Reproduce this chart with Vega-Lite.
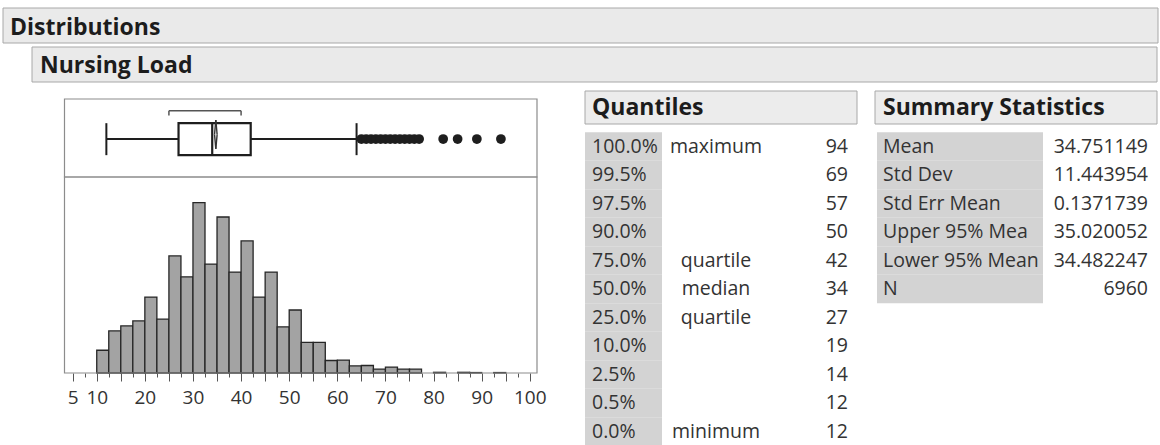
{
  "$schema": "https://vega.github.io/schema/vega-lite/v6.json",
  "padding": 0,
  "spacing": 0,
  "bounds": "flush",
  "background": "#ffffff",
  "config": {"view": {"stroke": null}, "font": "Open Sans", "concat": {"spacing": 0}},
  "datasets": {
    "bins": [
      {"bin_start": 10, "bin_end": 12.5, "count": 100},
      {"bin_start": 12.5, "bin_end": 15, "count": 185},
      {"bin_start": 15, "bin_end": 17.5, "count": 207},
      {"bin_start": 17.5, "bin_end": 20, "count": 229},
      {"bin_start": 20, "bin_end": 22.5, "count": 334},
      {"bin_start": 22.5, "bin_end": 25, "count": 237},
      {"bin_start": 25, "bin_end": 27.5, "count": 515},
      {"bin_start": 27.5, "bin_end": 30, "count": 423},
      {"bin_start": 30, "bin_end": 32.5, "count": 749},
      {"bin_start": 32.5, "bin_end": 35, "count": 479},
      {"bin_start": 35, "bin_end": 37.5, "count": 686},
      {"bin_start": 37.5, "bin_end": 40, "count": 444},
      {"bin_start": 40, "bin_end": 42.5, "count": 581},
      {"bin_start": 42.5, "bin_end": 45, "count": 334},
      {"bin_start": 45, "bin_end": 47.5, "count": 444},
      {"bin_start": 47.5, "bin_end": 50, "count": 203},
      {"bin_start": 50, "bin_end": 52.5, "count": 277},
      {"bin_start": 52.5, "bin_end": 55, "count": 135},
      {"bin_start": 55, "bin_end": 57.5, "count": 135},
      {"bin_start": 57.5, "bin_end": 60, "count": 55},
      {"bin_start": 60, "bin_end": 62.5, "count": 57},
      {"bin_start": 62.5, "bin_end": 65, "count": 31},
      {"bin_start": 65, "bin_end": 67.5, "count": 33},
      {"bin_start": 67.5, "bin_end": 70, "count": 17},
      {"bin_start": 70, "bin_end": 72.5, "count": 26},
      {"bin_start": 72.5, "bin_end": 75, "count": 17},
      {"bin_start": 75, "bin_end": 77.5, "count": 17},
      {"bin_start": 80, "bin_end": 82.5, "count": 3},
      {"bin_start": 85, "bin_end": 87.5, "count": 3},
      {"bin_start": 87.5, "bin_end": 90, "count": 2},
      {"bin_start": 92.5, "bin_end": 95, "count": 2}
    ],
    "box": [
      {"min": 12, "q1": 27, "median": 34, "q3": 42, "whisker_high": 64,
       "mean": 34.751149, "lower95": 34.482247, "upper95": 35.020052,
       "shortest_half_low": 25, "shortest_half_high": 40}
    ],
    "outliers": [
      {"load": 65}, {"load": 66}, {"load": 67}, {"load": 68}, {"load": 69},
      {"load": 70}, {"load": 71}, {"load": 72}, {"load": 73}, {"load": 74},
      {"load": 75}, {"load": 76}, {"load": 77}, {"load": 82}, {"load": 85},
      {"load": 89}, {"load": 94}
    ],
    "quantiles": [
      {"pct": "100.0%", "note": "maximum", "value": 94},
      {"pct": "99.5%", "note": "", "value": 69},
      {"pct": "97.5%", "note": "", "value": 57},
      {"pct": "90.0%", "note": "", "value": 50},
      {"pct": "75.0%", "note": "quartile", "value": 42},
      {"pct": "50.0%", "note": "median", "value": 34},
      {"pct": "25.0%", "note": "quartile", "value": 27},
      {"pct": "10.0%", "note": "", "value": 19},
      {"pct": "2.5%", "note": "", "value": 14},
      {"pct": "0.5%", "note": "", "value": 12},
      {"pct": "0.0%", "note": "minimum", "value": 12}
    ],
    "summary": [
      {"stat": "Mean", "value": "34.751149"},
      {"stat": "Std Dev", "value": "11.443954"},
      {"stat": "Std Err Mean", "value": "0.1371739"},
      {"stat": "Upper 95% Mea", "value": "35.020052"},
      {"stat": "Lower 95% Mean", "value": "34.482247"},
      {"stat": "N", "value": "6960"}
    ]
  },
  "vconcat": [
    {
      "width": 1160,
      "height": 88,
      "resolve": {"scale": {"x": "independent", "y": "independent"}},
      "layer": [
        {
          "data": {"values": [{"section": "Distributions"}]},
          "layer": [
            {
              "mark": {"type": "rect", "fill": "#eaeaea", "stroke": "#a8a8a8", "strokeWidth": 1},
              "encoding": {
                "x": {"datum": 0, "type": "quantitative", "scale": {"domain": [0, 1], "range": [3, 1158]}, "axis": null},
                "x2": {"datum": 1},
                "y": {"datum": 0, "type": "quantitative", "scale": {"domain": [0, 1], "range": [8, 43]}, "axis": null},
                "y2": {"datum": 1}
              }
            },
            {
              "mark": {"type": "text", "align": "left", "baseline": "middle", "fontSize": 23, "fontWeight": "bold", "color": "#1c1c1c", "dx": 7, "dy": 2},
              "encoding": {
                "x": {"datum": 0, "type": "quantitative"},
                "y": {"datum": 0.5, "type": "quantitative"},
                "text": {"field": "section"}
              }
            }
          ]
        },
        {
          "data": {"values": [{"section": "Nursing Load"}]},
          "layer": [
            {
              "mark": {"type": "rect", "fill": "#eaeaea", "stroke": "#a8a8a8", "strokeWidth": 1},
              "encoding": {
                "x": {"datum": 0, "type": "quantitative", "scale": {"domain": [0, 1], "range": [32, 1157]}, "axis": null},
                "x2": {"datum": 1},
                "y": {"datum": 0, "type": "quantitative", "scale": {"domain": [0, 1], "range": [47, 82]}, "axis": null},
                "y2": {"datum": 1}
              }
            },
            {
              "mark": {"type": "text", "align": "left", "baseline": "middle", "fontSize": 23, "fontWeight": "bold", "color": "#1c1c1c", "dx": 8, "dy": 1},
              "encoding": {
                "x": {"datum": 0, "type": "quantitative"},
                "y": {"datum": 0.5, "type": "quantitative"},
                "text": {"field": "section"}
              }
            }
          ]
        }
      ]
    },
    {
      "spacing": 0,
      "bounds": "flush",
      "hconcat": [
        {
          "width": 560,
          "height": 285,
          "resolve": {"scale": {"y": "independent"}},
          "layer": [
            {
              "layer": [
                {
                  "data": {"name": "bins"},
                  "mark": {"type": "rect", "fill": "#a3a3a3", "stroke": "#262626", "strokeWidth": 1.3},
                  "encoding": {
                    "x": {
                      "field": "bin_start", "type": "quantitative",
                      "scale": {"domain": [3.3, 101.5], "range": [64.5, 537], "nice": false, "zero": false},
                      "axis": {
                        "orient": "bottom", "title": null, "domain": false, "grid": false,
                        "values": [5, 7.5, 10, 12.5, 15, 17.5, 20, 22.5, 25, 27.5, 30, 32.5, 35, 37.5, 40, 42.5, 45, 47.5, 50, 52.5, 55, 57.5, 60, 62.5, 65, 67.5, 70, 72.5, 75, 77.5, 80, 82.5, 85, 87.5, 90, 92.5, 95, 97.5, 100],
                        "tickCount": 200,
                        "format": "d",
                        "labelExpr": "(datum.value % 10 == 0 || datum.value == 5) ? datum.label : ''",
                        "labelFontSize": 19, "labelColor": "#333333", "labelFont": "Open Sans",
                        "labelOverlap": false, "labelFlush": false, "labelBound": false, "labelPadding": 7,
                        "tickColor": "#555555", "tickWidth": 1,
                        "tickSize": {"condition": {"test": "datum.value % 5 == 0", "value": 8}, "value": 4}
                      }
                    },
                    "x2": {"field": "bin_end"},
                    "y": {"field": "count", "type": "quantitative", "scale": {"domain": [0, 862], "range": [285, 89], "nice": false, "zero": false}, "axis": null},
                    "y2": {"datum": 0}
                  }
                },
                {
                  "data": {"values": [{"panel": "histogram"}]},
                  "mark": {"type": "rect", "fill": null, "stroke": "#8c8c8c", "strokeWidth": 1.2},
                  "encoding": {
                    "x": {"datum": 3.3, "type": "quantitative"},
                    "x2": {"datum": 101.5},
                    "y": {"datum": 0, "type": "quantitative", "axis": null},
                    "y2": {"datum": 862}
                  }
                }
              ]
            },
            {
              "layer": [
                {
                  "data": {"values": [{"panel": "box plot"}]},
                  "mark": {"type": "rect", "fill": null, "stroke": "#8c8c8c", "strokeWidth": 1.2},
                  "encoding": {
                    "x": {"datum": 3.3, "type": "quantitative", "scale": {"domain": [3.3, 101.5], "range": [64.5, 537], "nice": false, "zero": false}},
                    "x2": {"datum": 101.5},
                    "y": {"datum": 0, "type": "quantitative", "scale": {"domain": [0, 1], "range": [89, 11], "nice": false, "zero": false}, "axis": null},
                    "y2": {"datum": 1}
                  }
                },
                {
                  "data": {"name": "box"},
                  "mark": {"type": "rule", "color": "#1e1e1e", "strokeWidth": 2},
                  "encoding": {
                    "x": {"field": "min", "type": "quantitative"},
                    "x2": {"field": "q1"},
                    "y": {"datum": 0.487, "type": "quantitative", "axis": null}
                  }
                },
                {
                  "data": {"name": "box"},
                  "mark": {"type": "rule", "color": "#1e1e1e", "strokeWidth": 2},
                  "encoding": {
                    "x": {"field": "q3", "type": "quantitative"},
                    "x2": {"field": "whisker_high"},
                    "y": {"datum": 0.487, "type": "quantitative", "axis": null}
                  }
                },
                {
                  "data": {"name": "box"},
                  "mark": {"type": "rule", "color": "#1e1e1e", "strokeWidth": 2},
                  "encoding": {
                    "x": {"field": "min", "type": "quantitative"},
                    "y": {"datum": 0.28, "type": "quantitative", "axis": null},
                    "y2": {"datum": 0.69}
                  }
                },
                {
                  "data": {"name": "box"},
                  "mark": {"type": "rule", "color": "#1e1e1e", "strokeWidth": 2},
                  "encoding": {
                    "x": {"field": "whisker_high", "type": "quantitative"},
                    "y": {"datum": 0.28, "type": "quantitative", "axis": null},
                    "y2": {"datum": 0.69}
                  }
                },
                {
                  "data": {"name": "box"},
                  "mark": {"type": "rect", "fill": "#ffffff", "stroke": "#1e1e1e", "strokeWidth": 2.2},
                  "encoding": {
                    "x": {"field": "q1", "type": "quantitative"},
                    "x2": {"field": "q3"},
                    "y": {"datum": 0.28, "type": "quantitative", "axis": null},
                    "y2": {"datum": 0.69}
                  }
                },
                {
                  "data": {"name": "box"},
                  "mark": {"type": "rule", "color": "#1e1e1e", "strokeWidth": 2.2},
                  "encoding": {
                    "x": {"field": "median", "type": "quantitative"},
                    "y": {"datum": 0.28, "type": "quantitative", "axis": null},
                    "y2": {"datum": 0.69}
                  }
                },
                {
                  "data": {"name": "box"},
                  "mark": {"type": "rule", "color": "#333333", "strokeWidth": 1.4},
                  "encoding": {
                    "x": {"field": "lower95", "type": "quantitative"},
                    "x2": {"field": "mean"},
                    "y": {"datum": 0.545, "type": "quantitative", "axis": null},
                    "y2": {"datum": 0.73}
                  }
                },
                {
                  "data": {"name": "box"},
                  "mark": {"type": "rule", "color": "#333333", "strokeWidth": 1.4},
                  "encoding": {
                    "x": {"field": "mean", "type": "quantitative"},
                    "x2": {"field": "upper95"},
                    "y": {"datum": 0.73, "type": "quantitative", "axis": null},
                    "y2": {"datum": 0.545}
                  }
                },
                {
                  "data": {"name": "box"},
                  "mark": {"type": "rule", "color": "#333333", "strokeWidth": 1.4},
                  "encoding": {
                    "x": {"field": "upper95", "type": "quantitative"},
                    "x2": {"field": "mean"},
                    "y": {"datum": 0.545, "type": "quantitative", "axis": null},
                    "y2": {"datum": 0.36}
                  }
                },
                {
                  "data": {"name": "box"},
                  "mark": {"type": "rule", "color": "#333333", "strokeWidth": 1.4},
                  "encoding": {
                    "x": {"field": "mean", "type": "quantitative"},
                    "x2": {"field": "lower95"},
                    "y": {"datum": 0.36, "type": "quantitative", "axis": null},
                    "y2": {"datum": 0.545}
                  }
                },
                {
                  "data": {"name": "box"},
                  "mark": {"type": "rule", "color": "#555555", "strokeWidth": 1.5},
                  "encoding": {
                    "x": {"field": "shortest_half_low", "type": "quantitative"},
                    "x2": {"field": "shortest_half_high"},
                    "y": {"datum": 0.85, "type": "quantitative", "axis": null}
                  }
                },
                {
                  "data": {"name": "box"},
                  "mark": {"type": "rule", "color": "#555555", "strokeWidth": 1.5},
                  "encoding": {
                    "x": {"field": "shortest_half_low", "type": "quantitative"},
                    "y": {"datum": 0.85, "type": "quantitative", "axis": null},
                    "y2": {"datum": 0.79}
                  }
                },
                {
                  "data": {"name": "box"},
                  "mark": {"type": "rule", "color": "#555555", "strokeWidth": 1.5},
                  "encoding": {
                    "x": {"field": "shortest_half_high", "type": "quantitative"},
                    "y": {"datum": 0.85, "type": "quantitative", "axis": null},
                    "y2": {"datum": 0.79}
                  }
                },
                {
                  "data": {"name": "outliers"},
                  "mark": {"type": "circle", "color": "#1e1e1e", "opacity": 1, "size": 95},
                  "encoding": {
                    "x": {"field": "load", "type": "quantitative"},
                    "y": {"datum": 0.487, "type": "quantitative", "axis": null}
                  }
                }
              ]
            }
          ]
        },
        {
          "width": 600,
          "height": 357,
          "resolve": {"scale": {"x": "independent", "y": "independent"}},
          "layer": [
            {
              "data": {"name": "quantiles"},
              "mark": {"type": "rect", "fill": "#d3d3d3"},
              "encoding": {
                "x": {"datum": 0, "type": "quantitative", "scale": {"domain": [0, 1], "range": [25, 102]}, "axis": null},
                "x2": {"datum": 1},
                "y": {"field": "pct", "type": "nominal", "sort": null, "scale": {"type": "band", "range": [44.25, 357.75], "paddingInner": 0, "paddingOuter": 0}, "axis": null}
              }
            },
            {
              "data": {"name": "summary"},
              "mark": {"type": "rect", "fill": "#d3d3d3"},
              "encoding": {
                "x": {"datum": 0, "type": "quantitative", "scale": {"domain": [0, 1], "range": [317, 483]}, "axis": null},
                "x2": {"datum": 1},
                "y": {"field": "stat", "type": "nominal", "sort": null, "scale": {"type": "band", "range": [44.25, 215.25], "paddingInner": 0, "paddingOuter": 0}, "axis": null}
              }
            },
            {
              "data": {"values": [{"heading": "Quantiles"}]},
              "layer": [
                {
                  "mark": {"type": "rect", "fill": "#ececec", "stroke": "#a8a8a8", "strokeWidth": 1},
                  "encoding": {
                    "x": {"datum": 0, "type": "quantitative", "scale": {"domain": [0, 1], "range": [25, 297]}, "axis": null},
                    "x2": {"datum": 1},
                    "y": {"datum": 0, "type": "quantitative", "scale": {"domain": [0, 1], "range": [3, 36]}, "axis": null},
                    "y2": {"datum": 1}
                  }
                },
                {
                  "mark": {"type": "text", "align": "left", "baseline": "middle", "fontSize": 23, "fontWeight": "bold", "color": "#1c1c1c", "dx": 7},
                  "encoding": {
                    "x": {"datum": 0, "type": "quantitative"},
                    "y": {"datum": 0.5, "type": "quantitative"},
                    "text": {"field": "heading"}
                  }
                }
              ]
            },
            {
              "data": {"values": [{"heading": "Summary Statistics"}]},
              "layer": [
                {
                  "mark": {"type": "rect", "fill": "#ececec", "stroke": "#a8a8a8", "strokeWidth": 1},
                  "encoding": {
                    "x": {"datum": 0, "type": "quantitative", "scale": {"domain": [0, 1], "range": [315, 597]}, "axis": null},
                    "x2": {"datum": 1},
                    "y": {"datum": 0, "type": "quantitative", "scale": {"domain": [0, 1], "range": [3, 36]}, "axis": null},
                    "y2": {"datum": 1}
                  }
                },
                {
                  "mark": {"type": "text", "align": "left", "baseline": "middle", "fontSize": 23, "fontWeight": "bold", "color": "#1c1c1c", "dx": 8},
                  "encoding": {
                    "x": {"datum": 0, "type": "quantitative"},
                    "y": {"datum": 0.5, "type": "quantitative"},
                    "text": {"field": "heading"}
                  }
                }
              ]
            },
            {
              "data": {"name": "quantiles"},
              "layer": [
                {
                  "mark": {"type": "text", "align": "left", "baseline": "middle", "fontSize": 19.5, "color": "#333333"},
                  "encoding": {
                    "x": {"datum": "pct", "type": "nominal", "scale": {"type": "point", "domain": ["pct", "note", "value"], "range": [32, 288], "padding": 0}, "axis": null},
                    "y": {"field": "pct", "type": "nominal", "sort": null, "scale": {"type": "point", "range": [58.5, 343.5], "padding": 0}, "axis": null},
                    "text": {"field": "pct"}
                  }
                },
                {
                  "mark": {"type": "text", "align": "center", "baseline": "middle", "fontSize": 19.5, "color": "#333333", "dx": -4},
                  "encoding": {
                    "x": {"datum": "note", "type": "nominal"},
                    "y": {"field": "pct", "type": "nominal", "sort": null},
                    "text": {"field": "note"}
                  }
                },
                {
                  "mark": {"type": "text", "align": "right", "baseline": "middle", "fontSize": 19.5, "color": "#333333"},
                  "encoding": {
                    "x": {"datum": "value", "type": "nominal"},
                    "y": {"field": "pct", "type": "nominal", "sort": null},
                    "text": {"field": "value"}
                  }
                }
              ]
            },
            {
              "data": {"name": "summary"},
              "layer": [
                {
                  "mark": {"type": "text", "align": "left", "baseline": "middle", "fontSize": 19.5, "color": "#333333"},
                  "encoding": {
                    "x": {"datum": "stat", "type": "nominal", "scale": {"type": "point", "domain": ["stat", "value"], "range": [323, 588], "padding": 0}, "axis": null},
                    "y": {"field": "stat", "type": "nominal", "sort": null, "scale": {"type": "point", "range": [58.5, 201], "padding": 0}, "axis": null},
                    "text": {"field": "stat"}
                  }
                },
                {
                  "mark": {"type": "text", "align": "right", "baseline": "middle", "fontSize": 19.5, "color": "#333333"},
                  "encoding": {
                    "x": {"datum": "value", "type": "nominal"},
                    "y": {"field": "stat", "type": "nominal", "sort": null},
                    "text": {"field": "value"}
                  }
                }
              ]
            }
          ]
        }
      ]
    }
  ]
}
